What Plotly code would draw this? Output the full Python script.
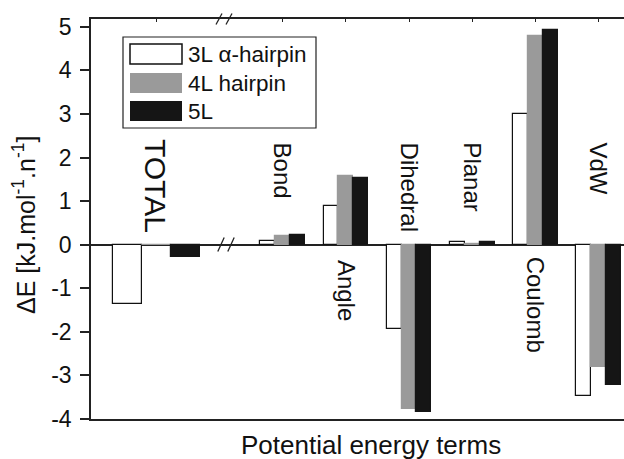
import plotly.graph_objects as go

# ---- data ----
categories = ["TOTAL", "Bond", "Angle", "Dihedral", "Planar", "Coulomb", "VdW"]
positions = [0, 2, 3, 4, 5, 6, 7]
series_names = ["3L \u03b1-hairpin", "4L hairpin", "5L"]
vals_3L = [-1.37, 0.09, 0.89, -1.93, 0.06, 3.00, -3.48]
vals_4L = [0.0, 0.20, 1.57, -3.77, 0.02, 4.79, -2.81]
vals_5L = [-0.28, 0.22, 1.54, -3.83, 0.06, 4.93, -3.21]
y_ticks = [-4, -3, -2, -1, 0, 1, 2, 3, 4, 5]
y_tick_text = ["-4", "-3", "-2", "-1", "0", "1", "2", "3", "4", "5"]

# ---- layout constants ----
FONT = "Liberation Sans, Arial, Helvetica, sans-serif"
W, H = 624, 459
ML, MR, MT, MB = 91, 0, 19, 40
XMIN, XMAX = -1.03, 7.4
YMIN, YMAX = -4.0, 5.18
PW, PH = W - ML - MR, H - MT - MB

def px2paper_x(px):
    return (px - ML) / PW

def px2paper_y(py):
    return (H - MB - py) / PH

colors = ["#ffffff", "#9a9a9a", "#151515"]
line_colors = ["#111111", "#9a9a9a", "#151515"]
series = [vals_3L, vals_4L, vals_5L]
# bar width (data units) for TOTAL group and for the other groups
w_total, w_other = 0.46, 0.235

fig = go.Figure()
for k, (name, vals) in enumerate(zip(series_names, series)):
    xs, ws = [], []
    for cat, p in zip(categories, positions):
        w = w_total if cat == "TOTAL" else w_other
        xs.append(p + (k - 1) * w)
        ws.append(w)
    fig.add_trace(go.Bar(
        x=xs, y=vals, width=ws, name=name,
        marker=dict(color=colors[k], line=dict(color=line_colors[k], width=1.2)),
        showlegend=False,
    ))

# invisible trace on top x axis for ticks
fig.add_trace(go.Scatter(x=[XMIN, XMAX], y=[0, 0], xaxis="x2", mode="lines",
                         line=dict(width=0), hoverinfo="skip", showlegend=False))

axis_col = "#222222"
fig.update_layout(
    width=W, height=H,
    margin=dict(l=ML, r=MR, t=MT, b=MB, pad=0),
    paper_bgcolor="white", plot_bgcolor="white",
    barmode="overlay", bargap=0,
    font=dict(family=FONT, color="#111111"),
    xaxis=dict(range=[XMIN, XMAX], showline=True, linecolor=axis_col, linewidth=1.5,
               showticklabels=False, ticks="", showgrid=False, zeroline=False),
    xaxis2=dict(range=[XMIN, XMAX], overlaying="x", side="top", anchor="y",
                showline=True, linecolor=axis_col, linewidth=1.5,
                tickvals=positions, ticks="inside", ticklen=3, tickwidth=1,
                tickcolor=axis_col, showticklabels=False, showgrid=False, zeroline=False),
    yaxis=dict(range=[YMIN, YMAX], showline=True, linecolor=axis_col, linewidth=1.5,
               tickvals=y_ticks, ticktext=y_tick_text, ticks="outside", ticklen=9, tickwidth=1.5,
               ticklabelstandoff=4,
               tickcolor=axis_col, tickfont=dict(size=23, family=FONT, color="#111111"),
               showgrid=False, zeroline=True, zerolinecolor=axis_col, zerolinewidth=1.5),
)

annotations = []
# category labels (rotated)
label_y = {"TOTAL": 2.47, "Bond": 2.40, "Angle": -0.31, "Dihedral": 2.40,
           "Planar": 2.40, "Coulomb": -0.24, "VdW": 2.40}
for cat, p in zip(categories, positions):
    annotations.append(dict(
        x=p, y=label_y[cat], xref="x", yref="y", text=cat, showarrow=False,
        textangle=90, xanchor="center", yanchor="top",
        font=dict(size=30 if cat == "TOTAL" else 24, family=FONT, color="#111111"),
    ))

# axis titles
annotations.append(dict(x=px2paper_x(371), y=px2paper_y(445), xref="paper", yref="paper",
                        text="Potential energy terms", showarrow=False,
                        xanchor="center", yanchor="middle",
                        font=dict(size=26, family=FONT, color="#111111")))
annotations.append(dict(x=px2paper_x(24), y=px2paper_y(225), xref="paper", yref="paper",
                        text="\u0394E [kJ.mol<sup>-1</sup>.n<sup>-1</sup>]", showarrow=False,
                        textangle=-90, xanchor="center", yanchor="middle",
                        font=dict(size=25, family=FONT, color="#111111")))

# legend (manual, large swatches)
shapes = []
shapes.append(dict(type="rect", xref="paper", yref="paper",
                   x0=px2paper_x(123), x1=px2paper_x(316),
                   y0=px2paper_y(128), y1=px2paper_y(37),
                   line=dict(color=axis_col, width=1.2), fillcolor="white", layer="above"))
row_c = [54, 83, 111]
for k, name in enumerate(series_names):
    shapes.append(dict(type="rect", xref="paper", yref="paper",
                       x0=px2paper_x(130), x1=px2paper_x(182),
                       y0=px2paper_y(row_c[k] + 10), y1=px2paper_y(row_c[k] - 10),
                       line=dict(color=line_colors[k], width=1.5 if k == 0 else 0),
                       fillcolor=colors[k], layer="above"))
    annotations.append(dict(x=px2paper_x(186), y=px2paper_y(row_c[k]), xref="paper", yref="paper",
                            text=name, showarrow=False, xanchor="left", yanchor="middle",
                            font=dict(size=22.5, family=FONT, color="#111111")))

# axis break marks "//"
for cy, cx, hh, ww in [(19, 224, 5.5, 3), (244.5, 226, 7, 3.2)]:
    for dx in (-5, 5):
        shapes.append(dict(type="line", xref="paper", yref="paper",
                           x0=px2paper_x(cx + dx - ww), y0=px2paper_y(cy + hh),
                           x1=px2paper_x(cx + dx + ww), y1=px2paper_y(cy - hh),
                           line=dict(color=axis_col, width=1.3), layer="above"))

fig.update_layout(annotations=annotations, shapes=shapes)
fig.write_html("out.html")
